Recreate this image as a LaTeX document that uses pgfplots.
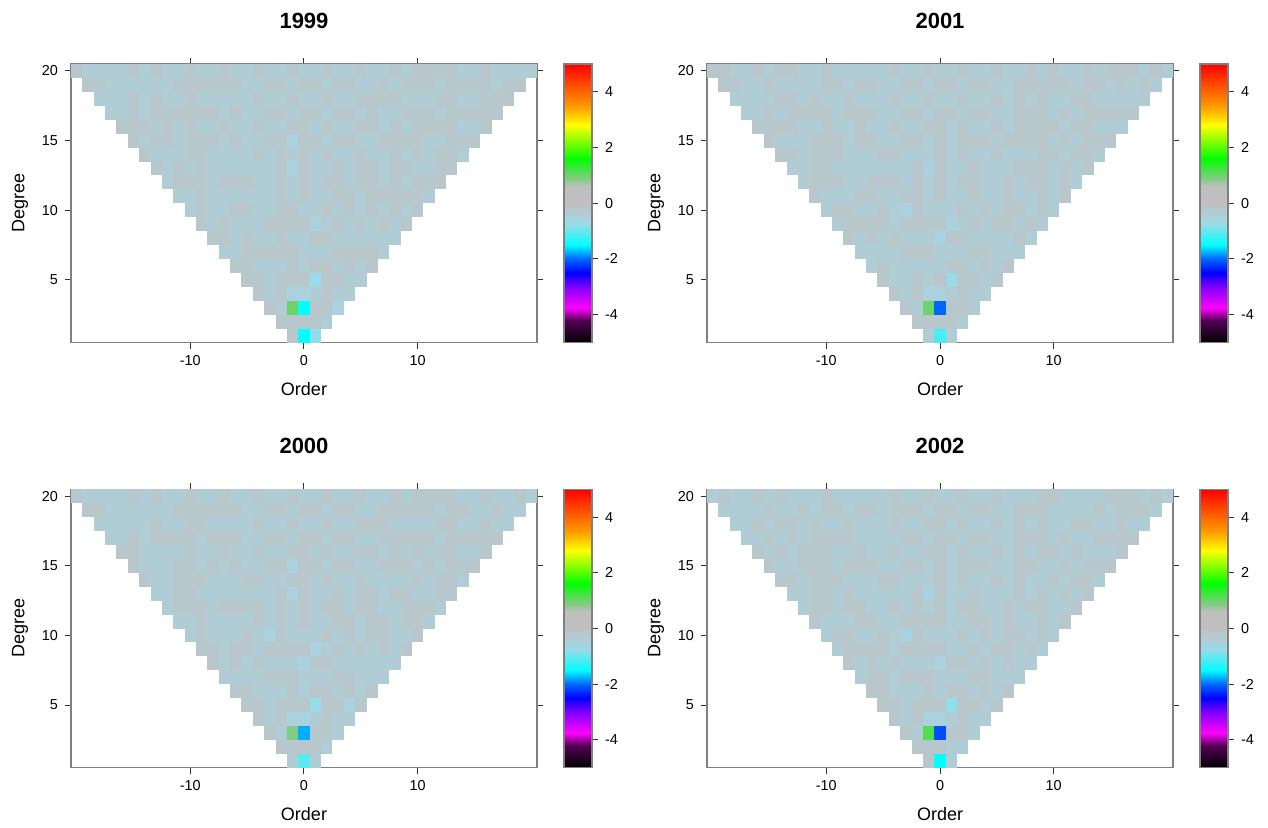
\documentclass[border=0pt]{standalone}
\usepackage{fontspec}
\setmainfont{Liberation Sans}
\usepackage{pgfplots}
\usepackage{pgfplotstable}
\pgfplotsset{compat=1.18}

% colour scale, positions = (value+5)*10
\pgfplotsset{colormap={shc}{
  rgb(0pt)=(0,0,0); rgb(8pt)=(0.33,0,0.33); rgb(12.5pt)=(1,0,1);
  rgb(20pt)=(0.5,0,1); rgb(25pt)=(0,0,1); rgb(30pt)=(0,0.4,1);
  rgb(35pt)=(0,1,1); rgb(42.5pt)=(0.6,0.86,0.91); rgb(45pt)=(0.67,0.82,0.87);
  rgb(46pt)=(0.69,0.8,0.835); rgb(48.5pt)=(0.72,0.78,0.8); rgb(50pt)=(0.75,0.75,0.75);
  rgb(56pt)=(0.75,0.75,0.75); rgb(59pt)=(0.5,0.8,0.5); rgb(66pt)=(0,1,0);
  rgb(78pt)=(1,1,0); rgb(85pt)=(1,0.6,0); rgb(100pt)=(1,0,0)}}

% one cell = 1 order unit x 1 degree unit
\pgfdeclareplotmark{shcell}{%
  \pgfpathrectangle{\pgfpoint{-2.87pt}{-3.51pt}}{\pgfpoint{5.74pt}{7.02pt}}%
  \pgfusepathqfill}

% 1999
\pgfplotstableread[row sep=\\]{m n z\\
-20 20 -0.15\\ -19 20 -0.4\\ -18 20 -0.4\\ -17 20 -0.4\\ -16 20 -0.4\\ -15 20 -0.15\\ -14 20 -0.4\\ -13 20 -0.15\\ -12 20 -0.4\\ -11 20 -0.4\\ -10 20 -0.15\\ -9 20 -0.4\\ -8 20 -0.4\\ -7 20 -0.15\\ -6 20 -0.4\\ -5 20 -0.4\\ -4 20 -0.15\\ -3 20 -0.4\\ -2 20 -0.4\\ -1 20 -0.15\\ 0 20 -0.4\\ 1 20 -0.4\\ 2 20 -0.15\\ 3 20 -0.4\\ 4 20 -0.4\\ 5 20 -0.15\\ 6 20 -0.4\\ 7 20 -0.4\\ 8 20 -0.15\\ 9 20 -0.4\\ 10 20 -0.15\\ 11 20 -0.15\\ 12 20 -0.15\\ 13 20 -0.15\\ 14 20 -0.4\\ 15 20 -0.4\\ 16 20 -0.15\\ 17 20 -0.4\\ 18 20 -0.4\\ 19 20 -0.4\\ 20 20 -0.4\\
-19 19 -0.15\\ -18 19 -0.15\\ -17 19 -0.4\\ -16 19 -0.4\\ -15 19 -0.4\\ -14 19 -0.4\\ -13 19 -0.4\\ -12 19 -0.4\\ -11 19 -0.15\\ -10 19 -0.15\\ -9 19 -0.15\\ -8 19 -0.15\\ -7 19 -0.15\\ -6 19 -0.15\\ -5 19 -0.4\\ -4 19 -0.4\\ -3 19 -0.15\\ -2 19 -0.15\\ -1 19 -0.4\\ 0 19 -0.15\\ 1 19 -0.15\\ 2 19 -0.4\\ 3 19 -0.15\\ 4 19 -0.15\\ 5 19 -0.4\\ 6 19 -0.4\\ 7 19 -0.15\\ 8 19 -0.4\\ 9 19 -0.15\\ 10 19 -0.15\\ 11 19 -0.15\\ 12 19 -0.4\\ 13 19 -0.15\\ 14 19 -0.15\\ 15 19 -0.15\\ 16 19 -0.15\\ 17 19 -0.4\\ 18 19 -0.15\\ 19 19 -0.15\\
-18 18 -0.4\\ -17 18 -0.4\\ -16 18 -0.4\\ -15 18 -0.15\\ -14 18 -0.4\\ -13 18 -0.15\\ -12 18 -0.4\\ -11 18 -0.4\\ -10 18 -0.15\\ -9 18 -0.4\\ -8 18 -0.4\\ -7 18 -0.4\\ -6 18 -0.4\\ -5 18 -0.4\\ -4 18 -0.15\\ -3 18 -0.4\\ -2 18 -0.4\\ -1 18 -0.15\\ 0 18 -0.4\\ 1 18 -0.4\\ 2 18 -0.15\\ 3 18 -0.4\\ 4 18 -0.4\\ 5 18 -0.15\\ 6 18 -0.15\\ 7 18 -0.15\\ 8 18 -0.15\\ 9 18 -0.4\\ 10 18 -0.4\\ 11 18 -0.4\\ 12 18 -0.15\\ 13 18 -0.15\\ 14 18 -0.4\\ 15 18 -0.4\\ 16 18 -0.15\\ 17 18 -0.15\\ 18 18 -0.15\\
-17 17 -0.4\\ -16 17 -0.4\\ -15 17 -0.15\\ -14 17 -0.4\\ -13 17 -0.15\\ -12 17 -0.15\\ -11 17 -0.15\\ -10 17 -0.15\\ -9 17 -0.15\\ -8 17 -0.15\\ -7 17 -0.4\\ -6 17 -0.15\\ -5 17 -0.4\\ -4 17 -0.4\\ -3 17 -0.15\\ -2 17 -0.15\\ -1 17 -0.4\\ 0 17 -0.15\\ 1 17 -0.15\\ 2 17 -0.4\\ 3 17 -0.15\\ 4 17 -0.15\\ 5 17 -0.4\\ 6 17 -0.15\\ 7 17 -0.4\\ 8 17 -0.4\\ 9 17 -0.15\\ 10 17 -0.15\\ 11 17 -0.15\\ 12 17 -0.4\\ 13 17 -0.15\\ 14 17 -0.15\\ 15 17 -0.15\\ 16 17 -0.15\\ 17 17 -0.15\\
-16 16 -0.15\\ -15 16 -0.15\\ -14 16 -0.15\\ -13 16 -0.4\\ -12 16 -0.15\\ -11 16 -0.4\\ -10 16 -0.15\\ -9 16 -0.4\\ -8 16 -0.4\\ -7 16 -0.15\\ -6 16 -0.4\\ -5 16 -0.4\\ -4 16 -0.15\\ -3 16 -0.4\\ -2 16 -0.4\\ -1 16 -0.15\\ 0 16 -0.15\\ 1 16 -0.4\\ 2 16 -0.15\\ 3 16 -0.4\\ 4 16 -0.4\\ 5 16 -0.15\\ 6 16 -0.15\\ 7 16 -0.4\\ 8 16 -0.15\\ 9 16 -0.4\\ 10 16 -0.15\\ 11 16 -0.15\\ 12 16 -0.15\\ 13 16 -0.15\\ 14 16 -0.4\\ 15 16 -0.4\\ 16 16 -0.15\\
-15 15 -0.15\\ -14 15 -0.4\\ -13 15 -0.15\\ -12 15 -0.15\\ -11 15 -0.4\\ -10 15 -0.15\\ -9 15 -0.15\\ -8 15 -0.15\\ -7 15 -0.4\\ -6 15 -0.15\\ -5 15 -0.4\\ -4 15 -0.4\\ -3 15 -0.15\\ -2 15 -0.15\\ -1 15 -0.5\\ 0 15 -0.15\\ 1 15 -0.15\\ 2 15 -0.4\\ 3 15 -0.15\\ 4 15 -0.15\\ 5 15 -0.4\\ 6 15 -0.4\\ 7 15 -0.15\\ 8 15 -0.15\\ 9 15 -0.15\\ 10 15 -0.15\\ 11 15 -0.4\\ 12 15 -0.4\\ 13 15 -0.15\\ 14 15 -0.15\\ 15 15 -0.15\\
-14 14 -0.15\\ -13 14 -0.4\\ -12 14 -0.4\\ -11 14 -0.4\\ -10 14 -0.15\\ -9 14 -0.15\\ -8 14 -0.4\\ -7 14 -0.4\\ -6 14 -0.4\\ -5 14 -0.4\\ -4 14 -0.15\\ -3 14 -0.4\\ -2 14 -0.15\\ -1 14 -0.4\\ 0 14 -0.15\\ 1 14 -0.4\\ 2 14 -0.15\\ 3 14 -0.4\\ 4 14 -0.4\\ 5 14 -0.15\\ 6 14 -0.4\\ 7 14 -0.4\\ 8 14 -0.15\\ 9 14 -0.4\\ 10 14 -0.15\\ 11 14 -0.4\\ 12 14 -0.15\\ 13 14 -0.15\\ 14 14 -0.4\\
-13 13 -0.15\\ -12 13 -0.4\\ -11 13 -0.15\\ -10 13 -0.4\\ -9 13 -0.15\\ -8 13 -0.4\\ -7 13 -0.4\\ -6 13 -0.4\\ -5 13 -0.4\\ -4 13 -0.4\\ -3 13 -0.4\\ -2 13 -0.15\\ -1 13 -0.5\\ 0 13 -0.15\\ 1 13 -0.4\\ 2 13 -0.4\\ 3 13 -0.15\\ 4 13 -0.4\\ 5 13 -0.15\\ 6 13 -0.15\\ 7 13 -0.4\\ 8 13 -0.15\\ 9 13 -0.15\\ 10 13 -0.4\\ 11 13 -0.4\\ 12 13 -0.15\\ 13 13 -0.15\\
-12 12 -0.4\\ -11 12 -0.15\\ -10 12 -0.15\\ -9 12 -0.15\\ -8 12 -0.4\\ -7 12 -0.15\\ -6 12 -0.15\\ -5 12 -0.15\\ -4 12 -0.4\\ -3 12 -0.4\\ -2 12 -0.15\\ -1 12 -0.4\\ 0 12 -0.15\\ 1 12 -0.4\\ 2 12 -0.15\\ 3 12 -0.15\\ 4 12 -0.4\\ 5 12 -0.15\\ 6 12 -0.15\\ 7 12 -0.4\\ 8 12 -0.15\\ 9 12 -0.4\\ 10 12 -0.15\\ 11 12 -0.15\\ 12 12 -0.15\\
-11 11 -0.4\\ -10 11 -0.4\\ -9 11 -0.15\\ -8 11 -0.4\\ -7 11 -0.4\\ -6 11 -0.4\\ -5 11 -0.4\\ -4 11 -0.4\\ -3 11 -0.4\\ -2 11 -0.15\\ -1 11 -0.4\\ 0 11 -0.15\\ 1 11 -0.4\\ 2 11 -0.4\\ 3 11 -0.15\\ 4 11 -0.15\\ 5 11 -0.4\\ 6 11 -0.15\\ 7 11 -0.15\\ 8 11 -0.15\\ 9 11 -0.15\\ 10 11 -0.15\\ 11 11 -0.4\\
-10 10 -0.4\\ -9 10 -0.15\\ -8 10 -0.4\\ -7 10 -0.4\\ -6 10 -0.15\\ -5 10 -0.15\\ -4 10 -0.4\\ -3 10 -0.4\\ -2 10 -0.15\\ -1 10 -0.15\\ 0 10 -0.4\\ 1 10 -0.4\\ 2 10 -0.15\\ 3 10 -0.4\\ 4 10 -0.15\\ 5 10 -0.4\\ 6 10 -0.15\\ 7 10 -0.4\\ 8 10 -0.15\\ 9 10 -0.4\\ 10 10 -0.15\\
-9 9 -0.15\\ -8 9 -0.4\\ -7 9 -0.15\\ -6 9 -0.4\\ -5 9 -0.4\\ -4 9 -0.4\\ -3 9 -0.15\\ -2 9 -0.15\\ -1 9 -0.15\\ 0 9 -0.15\\ 1 9 -0.5\\ 2 9 -0.4\\ 3 9 -0.15\\ 4 9 -0.4\\ 5 9 -0.15\\ 6 9 -0.4\\ 7 9 -0.15\\ 8 9 -0.4\\ 9 9 -0.15\\
-8 8 -0.15\\ -7 8 -0.15\\ -6 8 -0.4\\ -5 8 -0.15\\ -4 8 -0.4\\ -3 8 -0.4\\ -2 8 -0.15\\ -1 8 -0.4\\ 0 8 -0.4\\ 1 8 -0.15\\ 2 8 -0.15\\ 3 8 -0.4\\ 4 8 -0.4\\ 5 8 -0.4\\ 6 8 -0.4\\ 7 8 -0.4\\ 8 8 -0.4\\
-7 7 -0.4\\ -6 7 -0.4\\ -5 7 -0.15\\ -4 7 -0.15\\ -3 7 -0.15\\ -2 7 -0.15\\ -1 7 -0.15\\ 0 7 -0.4\\ 1 7 -0.4\\ 2 7 -0.4\\ 3 7 -0.15\\ 4 7 -0.15\\ 5 7 -0.15\\ 6 7 -0.15\\ 7 7 -0.4\\
-6 6 -0.15\\ -5 6 -0.15\\ -4 6 -0.4\\ -3 6 -0.4\\ -2 6 -0.4\\ -1 6 -0.15\\ 0 6 -0.4\\ 1 6 -0.15\\ 2 6 -0.15\\ 3 6 -0.4\\ 4 6 -0.15\\ 5 6 -0.4\\ 6 6 -0.15\\
-5 5 -0.15\\ -4 5 -0.15\\ -3 5 -0.4\\ -2 5 -0.15\\ -1 5 -0.15\\ 0 5 -0.15\\ 1 5 -0.75\\ 2 5 -0.15\\ 3 5 -0.15\\ 4 5 -0.4\\ 5 5 -0.4\\
-4 4 -0.15\\ -3 4 -0.4\\ -2 4 -0.15\\ -1 4 -0.5\\ 0 4 -0.5\\ 1 4 -0.4\\ 2 4 -0.15\\ 3 4 -0.4\\ 4 4 -0.4\\
-3 3 -0.15\\ -2 3 -0.4\\ -1 3 1.0\\ 0 3 -1.5\\ 1 3 -0.15\\ 2 3 -0.15\\ 3 3 -0.5\\
-2 2 -0.15\\ -1 2 -0.15\\ 0 2 -0.15\\ 1 2 -0.15\\ 2 2 -0.4\\
-1 1 -0.15\\ 0 1 -1.5\\ 1 1 -0.8\\}\tabA

% 2001
\pgfplotstableread[row sep=\\]{m n z\\
-20 20 -0.15\\ -19 20 -0.15\\ -18 20 -0.4\\ -17 20 -0.4\\ -16 20 -0.15\\ -15 20 -0.4\\ -14 20 -0.15\\ -13 20 -0.15\\ -12 20 -0.4\\ -11 20 -0.4\\ -10 20 -0.15\\ -9 20 -0.4\\ -8 20 -0.4\\ -7 20 -0.4\\ -6 20 -0.4\\ -5 20 -0.4\\ -4 20 -0.15\\ -3 20 -0.4\\ -2 20 -0.4\\ -1 20 -0.15\\ 0 20 -0.4\\ 1 20 -0.4\\ 2 20 -0.15\\ 3 20 -0.4\\ 4 20 -0.4\\ 5 20 -0.15\\ 6 20 -0.4\\ 7 20 -0.4\\ 8 20 -0.15\\ 9 20 -0.4\\ 10 20 -0.15\\ 11 20 -0.4\\ 12 20 -0.4\\ 13 20 -0.15\\ 14 20 -0.4\\ 15 20 -0.15\\ 16 20 -0.15\\ 17 20 -0.15\\ 18 20 -0.4\\ 19 20 -0.15\\ 20 20 -0.4\\
-19 19 -0.15\\ -18 19 -0.15\\ -17 19 -0.4\\ -16 19 -0.4\\ -15 19 -0.15\\ -14 19 -0.4\\ -13 19 -0.4\\ -12 19 -0.4\\ -11 19 -0.4\\ -10 19 -0.15\\ -9 19 -0.15\\ -8 19 -0.4\\ -7 19 -0.15\\ -6 19 -0.15\\ -5 19 -0.4\\ -4 19 -0.4\\ -3 19 -0.15\\ -2 19 -0.15\\ -1 19 -0.4\\ 0 19 -0.15\\ 1 19 -0.15\\ 2 19 -0.4\\ 3 19 -0.15\\ 4 19 -0.15\\ 5 19 -0.4\\ 6 19 -0.4\\ 7 19 -0.15\\ 8 19 -0.15\\ 9 19 -0.15\\ 10 19 -0.15\\ 11 19 -0.15\\ 12 19 -0.4\\ 13 19 -0.15\\ 14 19 -0.15\\ 15 19 -0.4\\ 16 19 -0.15\\ 17 19 -0.4\\ 18 19 -0.15\\ 19 19 -0.4\\
-18 18 -0.4\\ -17 18 -0.4\\ -16 18 -0.4\\ -15 18 -0.4\\ -14 18 -0.15\\ -13 18 -0.15\\ -12 18 -0.4\\ -11 18 -0.15\\ -10 18 -0.4\\ -9 18 -0.4\\ -8 18 -0.15\\ -7 18 -0.4\\ -6 18 -0.4\\ -5 18 -0.4\\ -4 18 -0.15\\ -3 18 -0.4\\ -2 18 -0.4\\ -1 18 -0.15\\ 0 18 -0.4\\ 1 18 -0.4\\ 2 18 -0.15\\ 3 18 -0.4\\ 4 18 -0.4\\ 5 18 -0.15\\ 6 18 -0.4\\ 7 18 -0.15\\ 8 18 -0.4\\ 9 18 -0.15\\ 10 18 -0.4\\ 11 18 -0.4\\ 12 18 -0.15\\ 13 18 -0.15\\ 14 18 -0.4\\ 15 18 -0.4\\ 16 18 -0.4\\ 17 18 -0.4\\ 18 18 -0.4\\
-17 17 -0.4\\ -16 17 -0.4\\ -15 17 -0.15\\ -14 17 -0.4\\ -13 17 -0.15\\ -12 17 -0.15\\ -11 17 -0.15\\ -10 17 -0.15\\ -9 17 -0.4\\ -8 17 -0.15\\ -7 17 -0.15\\ -6 17 -0.15\\ -5 17 -0.4\\ -4 17 -0.4\\ -3 17 -0.15\\ -2 17 -0.15\\ -1 17 -0.4\\ 0 17 -0.15\\ 1 17 -0.15\\ 2 17 -0.4\\ 3 17 -0.15\\ 4 17 -0.15\\ 5 17 -0.4\\ 6 17 -0.4\\ 7 17 -0.15\\ 8 17 -0.15\\ 9 17 -0.15\\ 10 17 -0.4\\ 11 17 -0.15\\ 12 17 -0.4\\ 13 17 -0.15\\ 14 17 -0.15\\ 15 17 -0.15\\ 16 17 -0.15\\ 17 17 -0.15\\
-16 16 -0.15\\ -15 16 -0.15\\ -14 16 -0.15\\ -13 16 -0.15\\ -12 16 -0.4\\ -11 16 -0.4\\ -10 16 -0.15\\ -9 16 -0.4\\ -8 16 -0.4\\ -7 16 -0.15\\ -6 16 -0.4\\ -5 16 -0.4\\ -4 16 -0.15\\ -3 16 -0.4\\ -2 16 -0.4\\ -1 16 -0.15\\ 0 16 -0.15\\ 1 16 -0.4\\ 2 16 -0.15\\ 3 16 -0.4\\ 4 16 -0.4\\ 5 16 -0.15\\ 6 16 -0.4\\ 7 16 -0.15\\ 8 16 -0.15\\ 9 16 -0.15\\ 10 16 -0.15\\ 11 16 -0.4\\ 12 16 -0.15\\ 13 16 -0.15\\ 14 16 -0.4\\ 15 16 -0.4\\ 16 16 -0.4\\
-15 15 -0.15\\ -14 15 -0.4\\ -13 15 -0.4\\ -12 15 -0.4\\ -11 15 -0.15\\ -10 15 -0.15\\ -9 15 -0.15\\ -8 15 -0.4\\ -7 15 -0.15\\ -6 15 -0.15\\ -5 15 -0.4\\ -4 15 -0.4\\ -3 15 -0.15\\ -2 15 -0.15\\ -1 15 -0.4\\ 0 15 -0.15\\ 1 15 -0.4\\ 2 15 -0.15\\ 3 15 -0.15\\ 4 15 -0.15\\ 5 15 -0.4\\ 6 15 -0.15\\ 7 15 -0.15\\ 8 15 -0.15\\ 9 15 -0.15\\ 10 15 -0.4\\ 11 15 -0.15\\ 12 15 -0.4\\ 13 15 -0.15\\ 14 15 -0.15\\ 15 15 -0.15\\
-14 14 -0.15\\ -13 14 -0.15\\ -12 14 -0.4\\ -11 14 -0.15\\ -10 14 -0.15\\ -9 14 -0.15\\ -8 14 -0.4\\ -7 14 -0.4\\ -6 14 -0.4\\ -5 14 -0.15\\ -4 14 -0.15\\ -3 14 -0.4\\ -2 14 -0.4\\ -1 14 -0.4\\ 0 14 -0.15\\ 1 14 -0.4\\ 2 14 -0.15\\ 3 14 -0.4\\ 4 14 -0.4\\ 5 14 -0.15\\ 6 14 -0.4\\ 7 14 -0.4\\ 8 14 -0.4\\ 9 14 -0.15\\ 10 14 -0.15\\ 11 14 -0.4\\ 12 14 -0.15\\ 13 14 -0.15\\ 14 14 -0.4\\
-13 13 -0.4\\ -12 13 -0.4\\ -11 13 -0.15\\ -10 13 -0.15\\ -9 13 -0.4\\ -8 13 -0.4\\ -7 13 -0.4\\ -6 13 -0.4\\ -5 13 -0.4\\ -4 13 -0.4\\ -3 13 -0.4\\ -2 13 -0.15\\ -1 13 -0.5\\ 0 13 -0.15\\ 1 13 -0.4\\ 2 13 -0.4\\ 3 13 -0.15\\ 4 13 -0.4\\ 5 13 -0.4\\ 6 13 -0.4\\ 7 13 -0.15\\ 8 13 -0.15\\ 9 13 -0.15\\ 10 13 -0.4\\ 11 13 -0.15\\ 12 13 -0.4\\ 13 13 -0.15\\
-12 12 -0.4\\ -11 12 -0.15\\ -10 12 -0.15\\ -9 12 -0.15\\ -8 12 -0.4\\ -7 12 -0.4\\ -6 12 -0.15\\ -5 12 -0.15\\ -4 12 -0.15\\ -3 12 -0.4\\ -2 12 -0.15\\ -1 12 -0.4\\ 0 12 -0.15\\ 1 12 -0.4\\ 2 12 -0.15\\ 3 12 -0.15\\ 4 12 -0.4\\ 5 12 -0.4\\ 6 12 -0.15\\ 7 12 -0.4\\ 8 12 -0.15\\ 9 12 -0.15\\ 10 12 -0.4\\ 11 12 -0.15\\ 12 12 -0.4\\
-11 11 -0.15\\ -10 11 -0.4\\ -9 11 -0.4\\ -8 11 -0.4\\ -7 11 -0.15\\ -6 11 -0.15\\ -5 11 -0.4\\ -4 11 -0.4\\ -3 11 -0.15\\ -2 11 -0.15\\ -1 11 -0.4\\ 0 11 -0.15\\ 1 11 -0.4\\ 2 11 -0.4\\ 3 11 -0.15\\ 4 11 -0.4\\ 5 11 -0.4\\ 6 11 -0.15\\ 7 11 -0.4\\ 8 11 -0.4\\ 9 11 -0.15\\ 10 11 -0.4\\ 11 11 -0.15\\
-10 10 -0.4\\ -9 10 -0.15\\ -8 10 -0.15\\ -7 10 -0.4\\ -6 10 -0.4\\ -5 10 -0.15\\ -4 10 -0.4\\ -3 10 -0.5\\ -2 10 -0.15\\ -1 10 -0.4\\ 0 10 -0.4\\ 1 10 -0.4\\ 2 10 -0.15\\ 3 10 -0.4\\ 4 10 -0.15\\ 5 10 -0.4\\ 6 10 -0.15\\ 7 10 -0.15\\ 8 10 -0.4\\ 9 10 -0.15\\ 10 10 -0.4\\
-9 9 -0.4\\ -8 9 -0.15\\ -7 9 -0.15\\ -6 9 -0.15\\ -5 9 -0.15\\ -4 9 -0.4\\ -3 9 -0.15\\ -2 9 -0.15\\ -1 9 -0.15\\ 0 9 -0.15\\ 1 9 -0.5\\ 2 9 -0.4\\ 3 9 -0.15\\ 4 9 -0.4\\ 5 9 -0.15\\ 6 9 -0.15\\ 7 9 -0.4\\ 8 9 -0.15\\ 9 9 -0.4\\
-8 8 -0.15\\ -7 8 -0.4\\ -6 8 -0.15\\ -5 8 -0.4\\ -4 8 -0.15\\ -3 8 -0.4\\ -2 8 -0.4\\ -1 8 -0.4\\ 0 8 -0.5\\ 1 8 -0.15\\ 2 8 -0.15\\ 3 8 -0.4\\ 4 8 -0.4\\ 5 8 -0.4\\ 6 8 -0.4\\ 7 8 -0.15\\ 8 8 -0.4\\
-7 7 -0.4\\ -6 7 -0.4\\ -5 7 -0.4\\ -4 7 -0.4\\ -3 7 -0.15\\ -2 7 -0.15\\ -1 7 -0.15\\ 0 7 -0.4\\ 1 7 -0.4\\ 2 7 -0.4\\ 3 7 -0.15\\ 4 7 -0.15\\ 5 7 -0.4\\ 6 7 -0.4\\ 7 7 -0.4\\
-6 6 -0.4\\ -5 6 -0.15\\ -4 6 -0.4\\ -3 6 -0.4\\ -2 6 -0.4\\ -1 6 -0.4\\ 0 6 -0.4\\ 1 6 -0.15\\ 2 6 -0.15\\ 3 6 -0.4\\ 4 6 -0.15\\ 5 6 -0.4\\ 6 6 -0.15\\
-5 5 -0.15\\ -4 5 -0.4\\ -3 5 -0.4\\ -2 5 -0.15\\ -1 5 -0.4\\ 0 5 -0.15\\ 1 5 -0.75\\ 2 5 -0.15\\ 3 5 -0.15\\ 4 5 -0.4\\ 5 5 -0.15\\
-4 4 -0.15\\ -3 4 -0.4\\ -2 4 -0.15\\ -1 4 -0.5\\ 0 4 -0.5\\ 1 4 -0.4\\ 2 4 -0.15\\ 3 4 -0.4\\ 4 4 -0.4\\
-3 3 -0.15\\ -2 3 -0.4\\ -1 3 1.0\\ 0 3 -2.0\\ 1 3 -0.15\\ 2 3 -0.15\\ 3 3 -0.4\\
-2 2 -0.15\\ -1 2 -0.15\\ 0 2 -0.15\\ 1 2 -0.15\\ 2 2 -0.4\\
-1 1 -0.4\\ 0 1 -1.15\\ 1 1 -0.4\\}\tabB

% 2000
\pgfplotstableread[row sep=\\]{m n z\\
-20 20 -0.15\\ -19 20 -0.4\\ -18 20 -0.4\\ -17 20 -0.4\\ -16 20 -0.4\\ -15 20 -0.15\\ -14 20 -0.4\\ -13 20 -0.15\\ -12 20 -0.4\\ -11 20 -0.4\\ -10 20 -0.15\\ -9 20 -0.4\\ -8 20 -0.4\\ -7 20 -0.15\\ -6 20 -0.4\\ -5 20 -0.4\\ -4 20 -0.15\\ -3 20 -0.4\\ -2 20 -0.4\\ -1 20 -0.15\\ 0 20 -0.4\\ 1 20 -0.4\\ 2 20 -0.15\\ 3 20 -0.4\\ 4 20 -0.4\\ 5 20 -0.15\\ 6 20 -0.4\\ 7 20 -0.4\\ 8 20 -0.15\\ 9 20 -0.4\\ 10 20 -0.15\\ 11 20 -0.15\\ 12 20 -0.15\\ 13 20 -0.15\\ 14 20 -0.4\\ 15 20 -0.4\\ 16 20 -0.15\\ 17 20 -0.4\\ 18 20 -0.4\\ 19 20 -0.15\\ 20 20 -0.4\\
-19 19 -0.15\\ -18 19 -0.15\\ -17 19 -0.4\\ -16 19 -0.4\\ -15 19 -0.4\\ -14 19 -0.4\\ -13 19 -0.4\\ -12 19 -0.4\\ -11 19 -0.15\\ -10 19 -0.15\\ -9 19 -0.15\\ -8 19 -0.15\\ -7 19 -0.15\\ -6 19 -0.15\\ -5 19 -0.4\\ -4 19 -0.4\\ -3 19 -0.15\\ -2 19 -0.15\\ -1 19 -0.4\\ 0 19 -0.15\\ 1 19 -0.15\\ 2 19 -0.4\\ 3 19 -0.15\\ 4 19 -0.15\\ 5 19 -0.4\\ 6 19 -0.4\\ 7 19 -0.15\\ 8 19 -0.15\\ 9 19 -0.15\\ 10 19 -0.15\\ 11 19 -0.15\\ 12 19 -0.4\\ 13 19 -0.15\\ 14 19 -0.15\\ 15 19 -0.4\\ 16 19 -0.4\\ 17 19 -0.15\\ 18 19 -0.4\\ 19 19 -0.4\\
-18 18 -0.4\\ -17 18 -0.4\\ -16 18 -0.4\\ -15 18 -0.4\\ -14 18 -0.4\\ -13 18 -0.15\\ -12 18 -0.4\\ -11 18 -0.4\\ -10 18 -0.15\\ -9 18 -0.15\\ -8 18 -0.4\\ -7 18 -0.4\\ -6 18 -0.4\\ -5 18 -0.4\\ -4 18 -0.15\\ -3 18 -0.4\\ -2 18 -0.4\\ -1 18 -0.15\\ 0 18 -0.4\\ 1 18 -0.4\\ 2 18 -0.15\\ 3 18 -0.4\\ 4 18 -0.4\\ 5 18 -0.15\\ 6 18 -0.15\\ 7 18 -0.15\\ 8 18 -0.4\\ 9 18 -0.4\\ 10 18 -0.4\\ 11 18 -0.4\\ 12 18 -0.15\\ 13 18 -0.15\\ 14 18 -0.4\\ 15 18 -0.4\\ 16 18 -0.15\\ 17 18 -0.4\\ 18 18 -0.4\\
-17 17 -0.4\\ -16 17 -0.4\\ -15 17 -0.15\\ -14 17 -0.4\\ -13 17 -0.15\\ -12 17 -0.15\\ -11 17 -0.15\\ -10 17 -0.15\\ -9 17 -0.4\\ -8 17 -0.15\\ -7 17 -0.15\\ -6 17 -0.15\\ -5 17 -0.4\\ -4 17 -0.4\\ -3 17 -0.15\\ -2 17 -0.15\\ -1 17 -0.4\\ 0 17 -0.15\\ 1 17 -0.15\\ 2 17 -0.4\\ 3 17 -0.15\\ 4 17 -0.15\\ 5 17 -0.4\\ 6 17 -0.4\\ 7 17 -0.15\\ 8 17 -0.15\\ 9 17 -0.15\\ 10 17 -0.15\\ 11 17 -0.15\\ 12 17 -0.4\\ 13 17 -0.15\\ 14 17 -0.15\\ 15 17 -0.15\\ 16 17 -0.15\\ 17 17 -0.15\\
-16 16 -0.15\\ -15 16 -0.15\\ -14 16 -0.4\\ -13 16 -0.4\\ -12 16 -0.4\\ -11 16 -0.4\\ -10 16 -0.15\\ -9 16 -0.4\\ -8 16 -0.4\\ -7 16 -0.15\\ -6 16 -0.4\\ -5 16 -0.4\\ -4 16 -0.15\\ -3 16 -0.4\\ -2 16 -0.4\\ -1 16 -0.15\\ 0 16 -0.15\\ 1 16 -0.4\\ 2 16 -0.15\\ 3 16 -0.4\\ 4 16 -0.4\\ 5 16 -0.15\\ 6 16 -0.15\\ 7 16 -0.4\\ 8 16 -0.15\\ 9 16 -0.4\\ 10 16 -0.15\\ 11 16 -0.4\\ 12 16 -0.15\\ 13 16 -0.15\\ 14 16 -0.4\\ 15 16 -0.4\\ 16 16 -0.15\\
-15 15 -0.15\\ -14 15 -0.4\\ -13 15 -0.4\\ -12 15 -0.4\\ -11 15 -0.15\\ -10 15 -0.15\\ -9 15 -0.4\\ -8 15 -0.15\\ -7 15 -0.4\\ -6 15 -0.15\\ -5 15 -0.4\\ -4 15 -0.4\\ -3 15 -0.15\\ -2 15 -0.15\\ -1 15 -0.5\\ 0 15 -0.15\\ 1 15 -0.15\\ 2 15 -0.4\\ 3 15 -0.15\\ 4 15 -0.15\\ 5 15 -0.4\\ 6 15 -0.4\\ 7 15 -0.15\\ 8 15 -0.15\\ 9 15 -0.15\\ 10 15 -0.4\\ 11 15 -0.15\\ 12 15 -0.4\\ 13 15 -0.15\\ 14 15 -0.15\\ 15 15 -0.15\\
-14 14 -0.15\\ -13 14 -0.4\\ -12 14 -0.4\\ -11 14 -0.15\\ -10 14 -0.15\\ -9 14 -0.15\\ -8 14 -0.4\\ -7 14 -0.4\\ -6 14 -0.4\\ -5 14 -0.15\\ -4 14 -0.15\\ -3 14 -0.4\\ -2 14 -0.4\\ -1 14 -0.15\\ 0 14 -0.15\\ 1 14 -0.4\\ 2 14 -0.15\\ 3 14 -0.4\\ 4 14 -0.4\\ 5 14 -0.15\\ 6 14 -0.4\\ 7 14 -0.4\\ 8 14 -0.4\\ 9 14 -0.4\\ 10 14 -0.15\\ 11 14 -0.4\\ 12 14 -0.15\\ 13 14 -0.15\\ 14 14 -0.4\\
-13 13 -0.4\\ -12 13 -0.4\\ -11 13 -0.15\\ -10 13 -0.15\\ -9 13 -0.4\\ -8 13 -0.4\\ -7 13 -0.4\\ -6 13 -0.4\\ -5 13 -0.4\\ -4 13 -0.4\\ -3 13 -0.4\\ -2 13 -0.15\\ -1 13 -0.5\\ 0 13 -0.15\\ 1 13 -0.4\\ 2 13 -0.4\\ 3 13 -0.15\\ 4 13 -0.4\\ 5 13 -0.15\\ 6 13 -0.15\\ 7 13 -0.4\\ 8 13 -0.15\\ 9 13 -0.15\\ 10 13 -0.4\\ 11 13 -0.4\\ 12 13 -0.15\\ 13 13 -0.15\\
-12 12 -0.4\\ -11 12 -0.15\\ -10 12 -0.15\\ -9 12 -0.15\\ -8 12 -0.4\\ -7 12 -0.15\\ -6 12 -0.15\\ -5 12 -0.15\\ -4 12 -0.15\\ -3 12 -0.4\\ -2 12 -0.15\\ -1 12 -0.4\\ 0 12 -0.15\\ 1 12 -0.4\\ 2 12 -0.15\\ 3 12 -0.15\\ 4 12 -0.4\\ 5 12 -0.15\\ 6 12 -0.15\\ 7 12 -0.4\\ 8 12 -0.4\\ 9 12 -0.15\\ 10 12 -0.15\\ 11 12 -0.15\\ 12 12 -0.4\\
-11 11 -0.4\\ -10 11 -0.4\\ -9 11 -0.15\\ -8 11 -0.4\\ -7 11 -0.4\\ -6 11 -0.4\\ -5 11 -0.4\\ -4 11 -0.15\\ -3 11 -0.4\\ -2 11 -0.15\\ -1 11 -0.4\\ 0 11 -0.15\\ 1 11 -0.4\\ 2 11 -0.4\\ 3 11 -0.15\\ 4 11 -0.15\\ 5 11 -0.4\\ 6 11 -0.15\\ 7 11 -0.15\\ 8 11 -0.4\\ 9 11 -0.15\\ 10 11 -0.15\\ 11 11 -0.4\\
-10 10 -0.4\\ -9 10 -0.15\\ -8 10 -0.4\\ -7 10 -0.4\\ -6 10 -0.4\\ -5 10 -0.15\\ -4 10 -0.4\\ -3 10 -0.5\\ -2 10 -0.15\\ -1 10 -0.4\\ 0 10 -0.4\\ 1 10 -0.4\\ 2 10 -0.15\\ 3 10 -0.4\\ 4 10 -0.15\\ 5 10 -0.4\\ 6 10 -0.15\\ 7 10 -0.15\\ 8 10 -0.4\\ 9 10 -0.4\\ 10 10 -0.15\\
-9 9 -0.15\\ -8 9 -0.15\\ -7 9 -0.4\\ -6 9 -0.15\\ -5 9 -0.15\\ -4 9 -0.4\\ -3 9 -0.15\\ -2 9 -0.15\\ -1 9 -0.15\\ 0 9 -0.15\\ 1 9 -0.5\\ 2 9 -0.4\\ 3 9 -0.15\\ 4 9 -0.4\\ 5 9 -0.15\\ 6 9 -0.4\\ 7 9 -0.15\\ 8 9 -0.4\\ 9 9 -0.15\\
-8 8 -0.15\\ -7 8 -0.4\\ -6 8 -0.15\\ -5 8 -0.4\\ -4 8 -0.15\\ -3 8 -0.4\\ -2 8 -0.4\\ -1 8 -0.4\\ 0 8 -0.5\\ 1 8 -0.15\\ 2 8 -0.15\\ 3 8 -0.4\\ 4 8 -0.4\\ 5 8 -0.4\\ 6 8 -0.4\\ 7 8 -0.4\\ 8 8 -0.4\\
-7 7 -0.4\\ -6 7 -0.4\\ -5 7 -0.4\\ -4 7 -0.4\\ -3 7 -0.15\\ -2 7 -0.15\\ -1 7 -0.15\\ 0 7 -0.4\\ 1 7 -0.4\\ 2 7 -0.4\\ 3 7 -0.15\\ 4 7 -0.15\\ 5 7 -0.4\\ 6 7 -0.4\\ 7 7 -0.4\\
-6 6 -0.15\\ -5 6 -0.15\\ -4 6 -0.4\\ -3 6 -0.4\\ -2 6 -0.4\\ -1 6 -0.15\\ 0 6 -0.4\\ 1 6 -0.15\\ 2 6 -0.15\\ 3 6 -0.4\\ 4 6 -0.15\\ 5 6 -0.4\\ 6 6 -0.15\\
-5 5 -0.15\\ -4 5 -0.15\\ -3 5 -0.4\\ -2 5 -0.15\\ -1 5 -0.15\\ 0 5 -0.15\\ 1 5 -0.75\\ 2 5 -0.15\\ 3 5 -0.15\\ 4 5 -0.5\\ 5 5 -0.15\\
-4 4 -0.15\\ -3 4 -0.4\\ -2 4 -0.15\\ -1 4 -0.5\\ 0 4 -0.5\\ 1 4 -0.4\\ 2 4 -0.15\\ 3 4 -0.4\\ 4 4 -0.4\\
-3 3 -0.15\\ -2 3 -0.4\\ -1 3 0.9\\ 0 3 -1.77\\ 1 3 -0.15\\ 2 3 -0.15\\ 3 3 -0.4\\
-2 2 -0.15\\ -1 2 -0.15\\ 0 2 -0.15\\ 1 2 -0.15\\ 2 2 -0.4\\
-1 1 -0.4\\ 0 1 -1.05\\ 1 1 -0.4\\}\tabC

% 2002
\pgfplotstableread[row sep=\\]{m n z\\
-20 20 -0.4\\ -19 20 -0.15\\ -18 20 -0.4\\ -17 20 -0.4\\ -16 20 -0.15\\ -15 20 -0.4\\ -14 20 -0.15\\ -13 20 -0.4\\ -12 20 -0.4\\ -11 20 -0.4\\ -10 20 -0.15\\ -9 20 -0.4\\ -8 20 -0.4\\ -7 20 -0.4\\ -6 20 -0.4\\ -5 20 -0.4\\ -4 20 -0.15\\ -3 20 -0.4\\ -2 20 -0.4\\ -1 20 -0.15\\ 0 20 -0.4\\ 1 20 -0.4\\ 2 20 -0.15\\ 3 20 -0.4\\ 4 20 -0.4\\ 5 20 -0.15\\ 6 20 -0.4\\ 7 20 -0.4\\ 8 20 -0.4\\ 9 20 -0.15\\ 10 20 -0.15\\ 11 20 -0.4\\ 12 20 -0.4\\ 13 20 -0.4\\ 14 20 -0.4\\ 15 20 -0.15\\ 16 20 -0.15\\ 17 20 -0.15\\ 18 20 -0.4\\ 19 20 -0.15\\ 20 20 -0.4\\
-19 19 -0.4\\ -18 19 -0.4\\ -17 19 -0.4\\ -16 19 -0.4\\ -15 19 -0.15\\ -14 19 -0.4\\ -13 19 -0.4\\ -12 19 -0.15\\ -11 19 -0.4\\ -10 19 -0.15\\ -9 19 -0.15\\ -8 19 -0.4\\ -7 19 -0.15\\ -6 19 -0.15\\ -5 19 -0.4\\ -4 19 -0.15\\ -3 19 -0.15\\ -2 19 -0.15\\ -1 19 -0.4\\ 0 19 -0.15\\ 1 19 -0.15\\ 2 19 -0.4\\ 3 19 -0.15\\ 4 19 -0.15\\ 5 19 -0.4\\ 6 19 -0.4\\ 7 19 -0.15\\ 8 19 -0.15\\ 9 19 -0.15\\ 10 19 -0.4\\ 11 19 -0.4\\ 12 19 -0.4\\ 13 19 -0.4\\ 14 19 -0.15\\ 15 19 -0.4\\ 16 19 -0.15\\ 17 19 -0.15\\ 18 19 -0.15\\ 19 19 -0.4\\
-18 18 -0.4\\ -17 18 -0.4\\ -16 18 -0.15\\ -15 18 -0.4\\ -14 18 -0.15\\ -13 18 -0.15\\ -12 18 -0.4\\ -11 18 -0.15\\ -10 18 -0.4\\ -9 18 -0.4\\ -8 18 -0.15\\ -7 18 -0.4\\ -6 18 -0.4\\ -5 18 -0.4\\ -4 18 -0.15\\ -3 18 -0.4\\ -2 18 -0.4\\ -1 18 -0.15\\ 0 18 -0.15\\ 1 18 -0.4\\ 2 18 -0.15\\ 3 18 -0.4\\ 4 18 -0.4\\ 5 18 -0.15\\ 6 18 -0.4\\ 7 18 -0.15\\ 8 18 -0.4\\ 9 18 -0.15\\ 10 18 -0.4\\ 11 18 -0.4\\ 12 18 -0.15\\ 13 18 -0.15\\ 14 18 -0.4\\ 15 18 -0.4\\ 16 18 -0.15\\ 17 18 -0.4\\ 18 18 -0.4\\
-17 17 -0.4\\ -16 17 -0.4\\ -15 17 -0.15\\ -14 17 -0.4\\ -13 17 -0.15\\ -12 17 -0.4\\ -11 17 -0.15\\ -10 17 -0.15\\ -9 17 -0.15\\ -8 17 -0.15\\ -7 17 -0.4\\ -6 17 -0.4\\ -5 17 -0.4\\ -4 17 -0.4\\ -3 17 -0.15\\ -2 17 -0.15\\ -1 17 -0.4\\ 0 17 -0.15\\ 1 17 -0.15\\ 2 17 -0.4\\ 3 17 -0.15\\ 4 17 -0.15\\ 5 17 -0.4\\ 6 17 -0.4\\ 7 17 -0.15\\ 8 17 -0.15\\ 9 17 -0.15\\ 10 17 -0.4\\ 11 17 -0.15\\ 12 17 -0.4\\ 13 17 -0.4\\ 14 17 -0.15\\ 15 17 -0.15\\ 16 17 -0.15\\ 17 17 -0.15\\
-16 16 -0.15\\ -15 16 -0.4\\ -14 16 -0.15\\ -13 16 -0.4\\ -12 16 -0.15\\ -11 16 -0.15\\ -10 16 -0.15\\ -9 16 -0.4\\ -8 16 -0.4\\ -7 16 -0.15\\ -6 16 -0.4\\ -5 16 -0.4\\ -4 16 -0.15\\ -3 16 -0.4\\ -2 16 -0.4\\ -1 16 -0.15\\ 0 16 -0.15\\ 1 16 -0.4\\ 2 16 -0.15\\ 3 16 -0.4\\ 4 16 -0.4\\ 5 16 -0.15\\ 6 16 -0.4\\ 7 16 -0.15\\ 8 16 -0.4\\ 9 16 -0.15\\ 10 16 -0.15\\ 11 16 -0.4\\ 12 16 -0.15\\ 13 16 -0.4\\ 14 16 -0.4\\ 15 16 -0.4\\ 16 16 -0.15\\
-15 15 -0.15\\ -14 15 -0.4\\ -13 15 -0.4\\ -12 15 -0.15\\ -11 15 -0.15\\ -10 15 -0.15\\ -9 15 -0.4\\ -8 15 -0.15\\ -7 15 -0.15\\ -6 15 -0.15\\ -5 15 -0.4\\ -4 15 -0.4\\ -3 15 -0.15\\ -2 15 -0.15\\ -1 15 -0.4\\ 0 15 -0.15\\ 1 15 -0.4\\ 2 15 -0.15\\ 3 15 -0.15\\ 4 15 -0.15\\ 5 15 -0.4\\ 6 15 -0.4\\ 7 15 -0.15\\ 8 15 -0.15\\ 9 15 -0.4\\ 10 15 -0.4\\ 11 15 -0.15\\ 12 15 -0.4\\ 13 15 -0.15\\ 14 15 -0.15\\ 15 15 -0.15\\
-14 14 -0.15\\ -13 14 -0.15\\ -12 14 -0.4\\ -11 14 -0.15\\ -10 14 -0.15\\ -9 14 -0.15\\ -8 14 -0.4\\ -7 14 -0.4\\ -6 14 -0.4\\ -5 14 -0.15\\ -4 14 -0.15\\ -3 14 -0.4\\ -2 14 -0.4\\ -1 14 -0.4\\ 0 14 -0.15\\ 1 14 -0.4\\ 2 14 -0.15\\ 3 14 -0.4\\ 4 14 -0.4\\ 5 14 -0.15\\ 6 14 -0.4\\ 7 14 -0.15\\ 8 14 -0.4\\ 9 14 -0.4\\ 10 14 -0.15\\ 11 14 -0.4\\ 12 14 -0.15\\ 13 14 -0.15\\ 14 14 -0.4\\
-13 13 -0.4\\ -12 13 -0.4\\ -11 13 -0.15\\ -10 13 -0.15\\ -9 13 -0.4\\ -8 13 -0.15\\ -7 13 -0.4\\ -6 13 -0.4\\ -5 13 -0.4\\ -4 13 -0.4\\ -3 13 -0.4\\ -2 13 -0.15\\ -1 13 -0.5\\ 0 13 -0.15\\ 1 13 -0.4\\ 2 13 -0.4\\ 3 13 -0.15\\ 4 13 -0.4\\ 5 13 -0.4\\ 6 13 -0.4\\ 7 13 -0.15\\ 8 13 -0.4\\ 9 13 -0.15\\ 10 13 -0.4\\ 11 13 -0.15\\ 12 13 -0.4\\ 13 13 -0.15\\
-12 12 -0.4\\ -11 12 -0.15\\ -10 12 -0.15\\ -9 12 -0.4\\ -8 12 -0.15\\ -7 12 -0.15\\ -6 12 -0.4\\ -5 12 -0.4\\ -4 12 -0.15\\ -3 12 -0.4\\ -2 12 -0.15\\ -1 12 -0.4\\ 0 12 -0.15\\ 1 12 -0.4\\ 2 12 -0.15\\ 3 12 -0.15\\ 4 12 -0.4\\ 5 12 -0.4\\ 6 12 -0.15\\ 7 12 -0.4\\ 8 12 -0.15\\ 9 12 -0.15\\ 10 12 -0.4\\ 11 12 -0.4\\ 12 12 -0.15\\
-11 11 -0.15\\ -10 11 -0.4\\ -9 11 -0.4\\ -8 11 -0.4\\ -7 11 -0.15\\ -6 11 -0.15\\ -5 11 -0.4\\ -4 11 -0.4\\ -3 11 -0.15\\ -2 11 -0.15\\ -1 11 -0.15\\ 0 11 -0.15\\ 1 11 -0.4\\ 2 11 -0.4\\ 3 11 -0.15\\ 4 11 -0.15\\ 5 11 -0.4\\ 6 11 -0.15\\ 7 11 -0.4\\ 8 11 -0.4\\ 9 11 -0.15\\ 10 11 -0.4\\ 11 11 -0.15\\
-10 10 -0.4\\ -9 10 -0.15\\ -8 10 -0.15\\ -7 10 -0.4\\ -6 10 -0.4\\ -5 10 -0.15\\ -4 10 -0.4\\ -3 10 -0.5\\ -2 10 -0.15\\ -1 10 -0.4\\ 0 10 -0.4\\ 1 10 -0.4\\ 2 10 -0.15\\ 3 10 -0.4\\ 4 10 -0.15\\ 5 10 -0.4\\ 6 10 -0.15\\ 7 10 -0.15\\ 8 10 -0.4\\ 9 10 -0.15\\ 10 10 -0.4\\
-9 9 -0.4\\ -8 9 -0.15\\ -7 9 -0.15\\ -6 9 -0.15\\ -5 9 -0.15\\ -4 9 -0.4\\ -3 9 -0.15\\ -2 9 -0.15\\ -1 9 -0.15\\ 0 9 -0.15\\ 1 9 -0.4\\ 2 9 -0.4\\ 3 9 -0.15\\ 4 9 -0.4\\ 5 9 -0.15\\ 6 9 -0.15\\ 7 9 -0.4\\ 8 9 -0.15\\ 9 9 -0.4\\
-8 8 -0.15\\ -7 8 -0.4\\ -6 8 -0.15\\ -5 8 -0.4\\ -4 8 -0.15\\ -3 8 -0.4\\ -2 8 -0.4\\ -1 8 -0.4\\ 0 8 -0.5\\ 1 8 -0.15\\ 2 8 -0.15\\ 3 8 -0.4\\ 4 8 -0.15\\ 5 8 -0.4\\ 6 8 -0.15\\ 7 8 -0.4\\ 8 8 -0.4\\
-7 7 -0.4\\ -6 7 -0.15\\ -5 7 -0.15\\ -4 7 -0.4\\ -3 7 -0.15\\ -2 7 -0.15\\ -1 7 -0.15\\ 0 7 -0.4\\ 1 7 -0.4\\ 2 7 -0.4\\ 3 7 -0.15\\ 4 7 -0.15\\ 5 7 -0.4\\ 6 7 -0.4\\ 7 7 -0.4\\
-6 6 -0.15\\ -5 6 -0.15\\ -4 6 -0.4\\ -3 6 -0.4\\ -2 6 -0.4\\ -1 6 -0.15\\ 0 6 -0.4\\ 1 6 -0.15\\ 2 6 -0.15\\ 3 6 -0.4\\ 4 6 -0.15\\ 5 6 -0.4\\ 6 6 -0.15\\
-5 5 -0.15\\ -4 5 -0.15\\ -3 5 -0.4\\ -2 5 -0.15\\ -1 5 -0.15\\ 0 5 -0.15\\ 1 5 -0.8\\ 2 5 -0.15\\ 3 5 -0.15\\ 4 5 -0.4\\ 5 5 -0.15\\
-4 4 -0.15\\ -3 4 -0.4\\ -2 4 -0.15\\ -1 4 -0.5\\ 0 4 -0.5\\ 1 4 -0.4\\ 2 4 -0.15\\ 3 4 -0.4\\ 4 4 -0.4\\
-3 3 -0.15\\ -2 3 -0.4\\ -1 3 1.15\\ 0 3 -2.12\\ 1 3 -0.15\\ 2 3 -0.15\\ 3 3 -0.4\\
-2 2 -0.15\\ -1 2 -0.15\\ 0 2 -0.15\\ 1 2 -0.4\\ 2 2 -0.4\\
-1 1 -0.15\\ 0 1 -1.5\\ 1 1 -0.4\\}\tabD

\pgfplotsset{
  /pgf/number format/assume math mode=true,
  shpanel/.style={
    scale only axis, width=233pt, height=139.25pt,
    xmin=-20.5, xmax=20.5, ymin=0.5, ymax=20.5,
    axis on top,
    xtick={-10,0,10}, ytick={5,10,15,20},
    xtick pos=both, ytick pos=both,
    xticklabel pos=lower, yticklabel pos=left,
    tick align=outside, major tick length=3pt,
    tick style={black!80, line width=0.5pt},
    axis line style={black!50, line width=0.7pt},
    ticklabel style={font=\fontsize{7.2}{8}\selectfont},
    label style={font=\fontsize{9}{10}\selectfont},
    xlabel={Order}, ylabel={Degree},
    xlabel style={at={(axis description cs:0.5,-0.167)}, anchor=center},
    ylabel style={at={(axis description cs:-0.1094,0.5)}, anchor=center},
    title style={at={(axis description cs:0.5,1.111)}, anchor=center,
      font=\bfseries\fontsize{11}{13}\selectfont},
    colormap name=shc, point meta min=-5, point meta max=5,
    colorbar,
    colorbar style={
      at={(parent axis.north east)}, anchor=north west, xshift=5pt,
      scale only axis, width=14pt, height=139.25pt,
      ytick={-4,-2,0,2,4},
      ytick pos=right, yticklabel pos=right,
      tick align=outside, major tick length=3pt,
      tick style={black!80, line width=0.5pt},
      axis line style={black!50, line width=0.7pt},
      yticklabel style={font=\fontsize{7.2}{8}\selectfont},
    },
  },
}

\begin{document}
\begin{tikzpicture}
\path (0,0) rectangle (634pt,412.5pt);
\begin{axis}[shpanel, at={(35.5pt,241.25pt)}, anchor=south west, title={1999}]
\addplot[scatter, only marks, mark=shcell, point meta=\thisrow{z},
  scatter/use mapped color={fill=mapped color}] table[x=m, y=n] {\tabA};
\end{axis}
\begin{axis}[shpanel, at={(353.5pt,241.25pt)}, anchor=south west, title={2001}]
\addplot[scatter, only marks, mark=shcell, point meta=\thisrow{z},
  scatter/use mapped color={fill=mapped color}] table[x=m, y=n] {\tabB};
\end{axis}
\begin{axis}[shpanel, at={(35.5pt,28.65pt)}, anchor=south west, title={2000}]
\addplot[scatter, only marks, mark=shcell, point meta=\thisrow{z},
  scatter/use mapped color={fill=mapped color}] table[x=m, y=n] {\tabC};
\end{axis}
\begin{axis}[shpanel, at={(353.5pt,28.65pt)}, anchor=south west, title={2002}]
\addplot[scatter, only marks, mark=shcell, point meta=\thisrow{z},
  scatter/use mapped color={fill=mapped color}] table[x=m, y=n] {\tabD};
\end{axis}
\end{tikzpicture}
\end{document}
